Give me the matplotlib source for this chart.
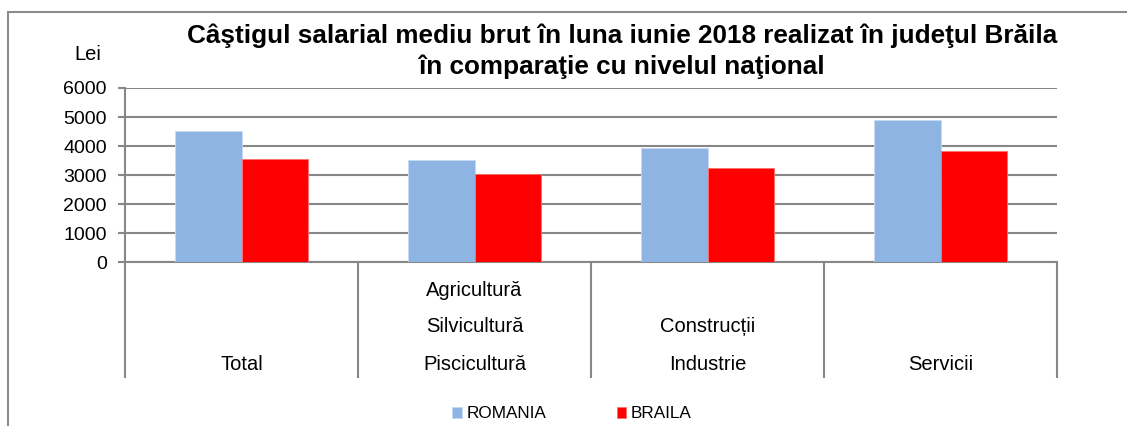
import matplotlib
matplotlib.use("Agg")
import matplotlib.pyplot as plt
from matplotlib.lines import Line2D
import numpy as np

categories = [["Total"],
              ["Agricultură", "Silvicultură", "Piscicultură"],
              ["Construcții", "Industrie"],
              ["Servicii"]]
romania = [4509, 3511, 3945, 4888]
braila = [3546, 3029, 3246, 3821]
series_names = ["ROMANIA", "BRAILA"]
yticks = [0, 1000, 2000, 3000, 4000, 5000, 6000]
title_lines = ["Câştigul salarial mediu brut în luna iunie 2018 realizat în judeţul Brăila",
               "în comparaţie cu nivelul naţional"]

W, H = 1127, 426
DPI = 100
plt.rcParams['font.family'] = ['Liberation Sans', 'DejaVu Sans']

fig = plt.figure(figsize=(W / DPI, H / DPI), dpi=DPI)

def fx(px):
    return px / W

def fy(py):
    return 1 - py / H

ax_left, ax_right, ax_top, ax_bottom = 125, 1057, 88, 262.3
ax = fig.add_axes([fx(ax_left), fy(ax_bottom), fx(ax_right - ax_left), (ax_bottom - ax_top) / H])

grid_col = '#878787'
x = np.arange(len(categories))
bw = 0.2857
ax.bar(x - bw / 2, romania, width=bw, color='#8EB4E3', edgecolor='#C6DAF1', linewidth=0.6, zorder=3, label=series_names[0])
ax.bar(x + bw / 2, braila, width=bw, color='#FF0000', edgecolor='#FF7070', linewidth=0.6, zorder=3, label=series_names[1])

ax.set_xlim(-0.5, len(categories) - 0.5)
ax.set_ylim(0, 6000)
ax.set_yticks(yticks)
ax.set_yticklabels([str(v) for v in yticks], fontsize=14)
ax.tick_params(axis='y', length=5, width=1.5, color=grid_col, pad=8)
ax.set_xticks([])
ax.yaxis.grid(True, color=grid_col, linewidth=1.5, zorder=0)
ax.set_axisbelow(True)
for s in ['top', 'right']:
    ax.spines[s].set_visible(False)
for s in ['left', 'bottom']:
    ax.spines[s].set_color(grid_col)
    ax.spines[s].set_linewidth(1.5)

# category separators extending below the axis
trans = ax.get_xaxis_transform()
span = ax_bottom - ax_top
sep_bottom = -(378 - ax_bottom) / span
ax.vlines(np.arange(len(categories) + 1) - 0.5, sep_bottom, 0, transform=trans,
          color=grid_col, linewidth=1.5, clip_on=False)

# category labels (bottom aligned lines)
base_px = 364
for i, lines in enumerate(categories):
    n = len(lines)
    for k, txt in enumerate(lines):
        from_bottom = n - 1 - k
        ypx = base_px - 37 * from_bottom
        ax.text(i, -(ypx - ax_bottom) / span, txt, transform=trans,
                ha='center', va='center', fontsize=14.5, clip_on=False)

# title
for j, line in enumerate(title_lines):
    fig.text(fx(622), fy(36 + 31 * j), line, ha='center', va='center', fontsize=18.8,
             fontweight='bold')

# axis unit label
fig.text(fx(88), fy(54), "Lei", ha='center', va='center', fontsize=14.5)

# legend
handles, labels = ax.get_legend_handles_labels()
leg = fig.legend(handles, labels, loc='center', bbox_to_anchor=(fx(572), fy(414)), ncol=2,
                 frameon=False, fontsize=12.3, handlelength=0.55, handleheight=0.55,
                 handletextpad=0.3, columnspacing=4.1)

# outer frame (left and top edges visible)
fig.add_artist(Line2D([fx(8), fx(8)], [fy(12), 0], color='#8c8c8c', linewidth=1.5,
                      transform=fig.transFigure))
fig.add_artist(Line2D([fx(8), 1], [fy(12), fy(12)], color='#8c8c8c', linewidth=1.5,
                      transform=fig.transFigure))

fig.savefig("out.png", dpi=DPI)
